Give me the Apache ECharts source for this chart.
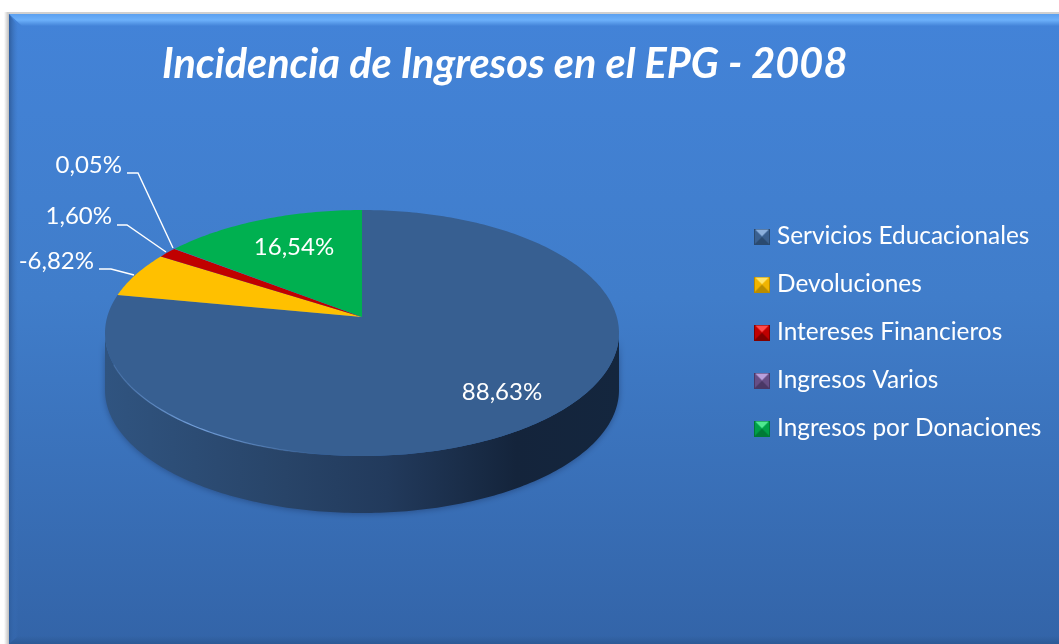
<!DOCTYPE html>
<html>
<head>
<meta charset="utf-8">
<style>html,body{margin:0;padding:0;background:#fff}#c{width:1059px;height:644px}</style>
<script src="https://cdn.jsdelivr.net/npm/echarts@6/dist/echarts.min.js"></script>
</head>
<body>
<div id="c"></div>
<script>
const categories = ['Servicios Educacionales','Devoluciones','Intereses Financieros','Ingresos Varios','Ingresos por Donaciones'];
const percentages = [88.63,-6.82,1.60,0.05,16.54];
const sliceColors = ['#375F91','#FFC000','#C00000','#7F5FA8','#00B050'];
const iconColors = [
  {base:'#4F81BD',top:'#8DB0DC',side:'#3A6090',bottom:'#2A4A70'},
  {base:'#FFC000',top:'#FFE46A',side:'#F0B400',bottom:'#B98C00'},
  {base:'#E00000',top:'#FF4A4A',side:'#C00000',bottom:'#800000'},
  {base:'#8064A2',top:'#B9A0DC',side:'#664E86',bottom:'#4A3866'},
  {base:'#00B050',top:'#4FE890',side:'#00A048',bottom:'#007A36'}
];
const titleText = 'Incidencia de Ingresos en el EPG - 2008';

// Layout of the drawing (not data)
const CX = 362, CY = 333, RX = 257, RY = 123, DEPTH = 57, PERSP = 0.13;
const labelLayout = [
  {x:502, y:392, align:'center', leader:null},
  {x:94,  y:261, align:'right', leader:[[99,269],[111,269],[134,275]]},
  {x:112, y:216, align:'right', leader:[[117,225],[127,225],[166,252]]},
  {x:122, y:165, align:'right', leader:[[127,173],[138,173],[173,248]]},
  {x:294, y:247, align:'center', leader:null}
];

const total = percentages.reduce((s,v)=>s+Math.abs(v),0);
function project(turn){
  const t = turn*2*Math.PI, s = Math.cos(t), c = Math.sin(t);
  const k = PERSP, q = Math.sqrt(1-k*k)/(1+k*s);
  return [CX + RX*c*q, CY - RY*(s+k)/(1+k*s)];
}
function startTurn(i){
  let a=0; for(let j=0;j<i;j++) a+=Math.abs(percentages[j]); return a/total;
}
function sectorPoints(from,to){
  const pts=[[CX, CY-RY*PERSP]];
  const n=Math.max(2,Math.ceil((to-from)*360));
  for(let i=0;i<=n;i++) pts.push(project(from+(to-from)*i/n));
  return pts;
}
function wallPoints(){
  const pts=[]; const n=180;
  for(let i=0;i<=n;i++){const t=Math.PI*i/n; pts.push([CX+RX*Math.cos(t),CY+RY*Math.sin(t)]);}
  for(let i=n;i>=0;i--){const t=Math.PI*i/n; pts.push([CX+RX*Math.cos(t),CY+DEPTH+RY*Math.sin(t)]);}
  return pts;
}
function rimPoints(a,b){
  const pts=[]; const n=60;
  for(let i=0;i<=n;i++){const t=(a+(b-a)*i/n)*Math.PI/180; pts.push([CX+RX*Math.cos(t),CY+RY*Math.sin(t)]);}
  return pts;
}
function fmt(v){return v.toFixed(2).replace('.',',')+'%';}

function renderSlice(params, api){
  const i = params.seriesIndex;
  const from = startTurn(i), to = from + Math.abs(api.value(0))/total;
  const children=[];
  if(i===0){
    children.push({type:'polygon',shape:{points:wallPoints()},
      style:{fill:new echarts.graphic.LinearGradient(0,0,1,0,[
        {offset:0,color:'#305480'},{offset:.35,color:'#284468'},{offset:.55,color:'#223A5C'},
        {offset:.8,color:'#14243B'},{offset:1,color:'#14263E'}]),
        shadowBlur:6,shadowColor:'rgba(20,40,80,.45)',shadowOffsetY:1}});
  }
  children.push({type:'polygon',shape:{points:sectorPoints(from,to)},
    style:{fill:sliceColors[i]}});
  if(i===0){
    children.push({type:'polyline',shape:{points:rimPoints(165,100)},
      style:{fill:'none',lineWidth:1.3,stroke:new echarts.graphic.LinearGradient(0,0,1,0,[
        {offset:0,color:'rgba(120,165,225,.2)'},{offset:.4,color:'rgba(125,170,230,.85)'},
        {offset:1,color:'rgba(125,170,230,0)'}])}});
  }
  const L=labelLayout[i];
  if(L.leader){
    children.push({type:'polyline',shape:{points:L.leader},
      style:{fill:'none',stroke:'#fff',lineWidth:1.4}});
  }
  children.push({type:'text',style:{x:L.x,y:L.y,text:fmt(percentages[i]),fill:'#fff',
    font:'24px Lato, "Open Sans", sans-serif',textAlign:L.align,textVerticalAlign:'middle'},z2:10});
  return {type:'group',children};
}

function bevelIcon(c){
  const cv=document.createElement('canvas'); cv.width=16; cv.height=16;
  const g=cv.getContext('2d');
  const tri=(col,p)=>{g.fillStyle=col;g.beginPath();g.moveTo(p[0],p[1]);g.lineTo(p[2],p[3]);g.lineTo(p[4],p[5]);g.closePath();g.fill();};
  g.fillStyle=c.base; g.fillRect(0,0,16,16);
  tri(c.top,[0,0,16,0,8,8]);
  tri(c.side,[0,0,0,16,8,8]);
  tri(c.side,[16,0,16,16,8,8]);
  tri(c.bottom,[0,16,16,16,8,8]);
  g.strokeStyle=c.bottom; g.lineWidth=1; g.strokeRect(.5,.5,15,15);
  return 'image://'+cv.toDataURL();
}

const chart = echarts.init(document.getElementById('c'),null,{renderer:'canvas'});
chart.setOption({
  animation:false,
  backgroundColor:'#ffffff',
  title:{text:titleText,left:157,top:39,
    textStyle:{color:'#fff',fontFamily:'Lato, "Open Sans", sans-serif',fontStyle:'italic',fontWeight:'bold',fontSize:41.4}},
  legend:{orient:'vertical',left:749,top:217,itemWidth:16,itemHeight:16,itemGap:19,selectedMode:false,
    textStyle:{color:'#fff',fontFamily:'Lato, "Open Sans", sans-serif',fontSize:24.4,padding:[0,0,0,2],lineHeight:29},
    data:categories.map((n,i)=>({name:n,icon:bevelIcon(iconColors[i])}))},
  graphic:[
    {type:'rect',z:-10,silent:true,shape:{x:4,y:12,width:5,height:632},
      style:{fill:new echarts.graphic.LinearGradient(0,0,1,0,[{offset:0,color:'#ffffff'},{offset:1,color:'#bdbdbd'}])}},
    {type:'rect',z:-10,silent:true,shape:{x:7,y:12,width:1052,height:2},
      style:{fill:'#d0d0d0'}},
    {type:'rect',z:-9,silent:true,shape:{x:9,y:14,width:1050,height:630},
      style:{fill:new echarts.graphic.LinearGradient(0,0,0,1,[{offset:0,color:'#4383D8'},{offset:.45,color:'#407DCA'},{offset:1,color:'#3364A8'}])}},
    {type:'polygon',z:-8,silent:true,shape:{points:[[9,14],[1059,14],[1059,26],[22,26]]},
      style:{fill:new echarts.graphic.LinearGradient(0,0,0,1,[{offset:0,color:'#5BA0F0'},{offset:.5,color:'#6CB0FA'},{offset:1,color:'#4383D8'}])}},
    {type:'polygon',z:-8,silent:true,shape:{points:[[9,14],[18,26],[18,636],[9,644]]},
      style:{fill:new echarts.graphic.LinearGradient(0,0,1,0,[{offset:0,color:'#2F5E9E'},{offset:1,color:'rgba(60,115,190,0)'}])}},
    {type:'polygon',z:-8,silent:true,shape:{points:[[9,644],[18,636],[1059,636],[1059,644]]},
      style:{fill:new echarts.graphic.LinearGradient(0,0,0,1,[{offset:0,color:'rgba(45,90,150,0)'},{offset:1,color:'#2C5A96'}])}}
  ],
  series:categories.map((n,i)=>({
    name:n,type:'custom',coordinateSystem:'none',silent:true,
    itemStyle:{color:sliceColors[i]},
    renderItem:renderSlice,
    data:[[percentages[i]]]
  }))
});
</script>
</body>
</html>
